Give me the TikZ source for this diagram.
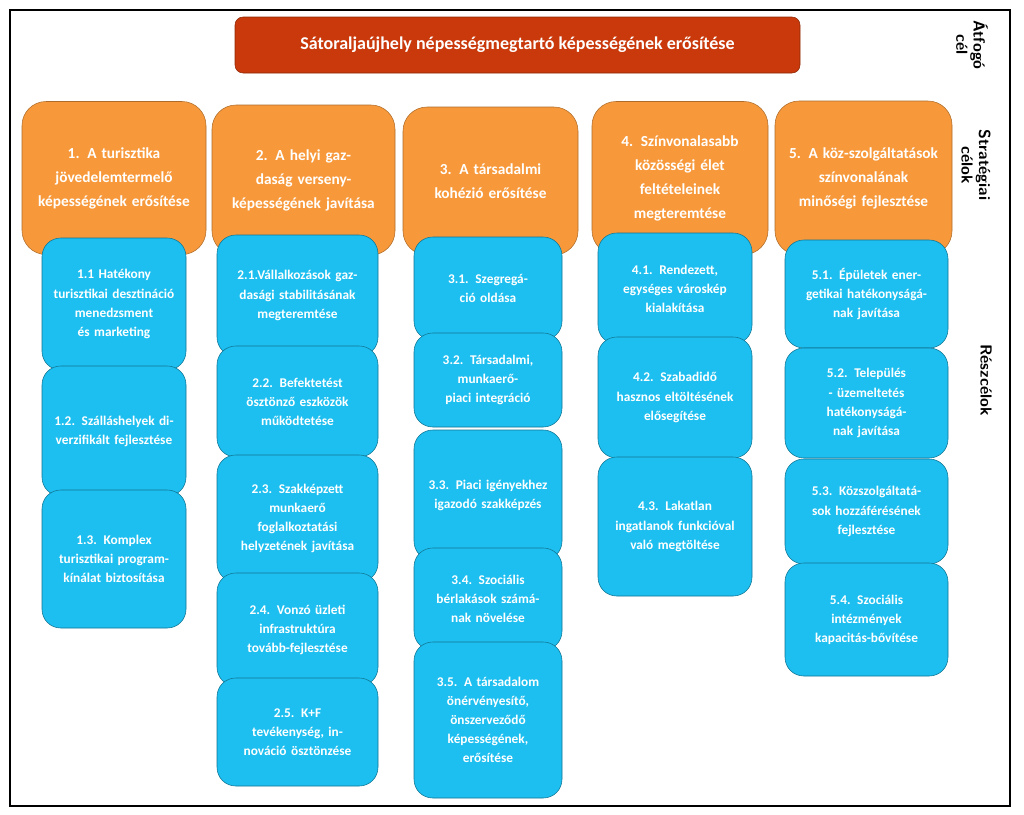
\documentclass[tikz,border=0pt]{standalone}
\usepackage{fontspec}
\setmainfont{Carlito}
\definecolor{titlered}{HTML}{C9390B}
\definecolor{goalorange}{HTML}{F7993B}
\definecolor{subblue}{HTML}{1CBFF0}
\begin{document}
\begin{tikzpicture}[x=0.75pt,y=-0.75pt,
  sz/.style 2 args={minimum width=0.75*#1pt,minimum height=0.75*#2pt},
  title/.style={rectangle,rounded corners=6pt,fill=titlered,draw=titlered!70!black,
    text=white,font=\bfseries\fontsize{13.5}{16}\selectfont,inner sep=0pt},
  goal/.style={rectangle,rounded corners=18pt,fill=goalorange,draw=goalorange!70!black,
    text=white,font=\bfseries\fontsize{11.5}{18}\selectfont,align=center,text width=122pt,inner sep=0pt},
  sub/.style={rectangle,rounded corners=14pt,fill=subblue,draw=subblue!60!black,
    text=white,font=\bfseries\fontsize{10}{14.3}\selectfont,align=center,text width=92pt,inner sep=0pt},
  side/.style={rotate=-90,font=\bfseries\sffamily\fontsize{12}{13}\selectfont,align=center}]

\draw[line width=1.2pt] (10,10) rectangle (1010,806);
\useasboundingbox (0,0) rectangle (1024,814);

\node[title,sz={565}{56}] (TOP) at (517.5,45) {Sátoraljaújhely népességmegtartó képességének erősítése};

% strategic goals
\node[goal,sz={184}{153}] (G1) at (114,178) {1. A turisztika jövedelemtermelő képességének erősítése};
\node[goal,sz={183}{150}] (G2) at (303.5,180) {2. A helyi gazdaság verseny-képességének javítása};
\node[goal,sz={175}{148}] (G3) at (490.5,181) {3. A társadalmi kohézió erősítése};
\node[goal,sz={176}{153}] (G4) at (680,178) {4. Színvonalasabb közösségi élet feltételeinek megteremtése};
\node[goal,sz={177}{154}] (G5) at (863.5,178) {5. A köz-szolgáltatások színvonalának minőségi fejlesztése};

% sub goals
\node[sub,sz={144}{132}] (S11) at (114,304) {1.1 Hatékony turisztikai desztináció menedzsment és marketing};
\node[sub,sz={144}{130}] (S12) at (114,431) {1.2. Szálláshelyek diverzifikált fejlesztése};
\node[sub,sz={144}{138}] (S13) at (114,559) {1.3. Komplex turisztikai program-kínálat biztosítása};

\node[sub,sz={161}{121}] (S21) at (297.5,295.5) {2.1.Vállalkozások gazdasági stabilitásának megteremtése};
\node[sub,sz={161}{111}] (S22) at (297.5,401.5) {2.2. Befektetést ösztönző eszközök működtetése};
\node[sub,sz={161}{127}] (S23) at (297.5,518.5) {2.3. Szakképzett munkaerő foglalkoztatási helyzetének javítása};
\node[sub,sz={161}{113}] (S24) at (297.5,629.5) {2.4. Vonzó üzleti infrastruktúra tovább-fejlesztése};
\node[sub,sz={161}{108}] (S25) at (297.5,732) {2.5. K+F tevékenység, innováció ösztönzése};

\node[sub,sz={148}{103}] (S31) at (488,288.5) {3.1. Szegregáció oldása\\[14pt]};
\node[sub,sz={148}{94}] (S32) at (488,380) {3.2. Társadalmi, munkaerő-piaci integráció};
\node[sub,sz={148}{130}] (S33) at (488,495) {3.3. Piaci igényekhez igazodó szakképzés};
\node[sub,sz={148}{102}] (S34) at (488,599) {3.4. Szociális bérlakások számának növelése};
\node[sub,sz={148}{156}] (S35) at (488,720) {3.5. A társadalom önérvényesítő, önszerveződő képességének, erősítése};

\node[sub,sz={154}{111}] (S41) at (675,288.5) {4.1. Rendezett, egységes városkép kialakítása};
\node[sub,sz={154}{121}] (S42) at (675,397.5) {4.2. Szabadidő hasznos eltöltésének elősegítése};
\node[sub,sz={154}{139}] (S43) at (675,526.5) {4.3. Lakatlan ingatlanok funkcióval való megtöltése};

\node[sub,sz={163}{108}] (S51) at (866.5,294) {5.1. Épületek energetikai hatékonyságának javítása};
\node[sub,sz={163}{110}] (S52) at (866.5,403) {5.2. Település - üzemeltetés hatékonyságának javítása};
\node[sub,sz={163}{105}] (S53) at (866.5,511.5) {5.3. Közszolgáltatások hozzáférésének fejlesztése};
\node[sub,sz={163}{113}] (S54) at (866.5,619.5) {5.4. Szociális intézmények kapacitás-bővítése};

% row labels
\node[side] (LTOP) at (972,45) {Átfogó\\cél};
\node[side] (LGOAL) at (976,165) {Stratégiai\\célok};
\node[side] (LSUB) at (986,380) {Részcélok};
\end{tikzpicture}
\end{document}
